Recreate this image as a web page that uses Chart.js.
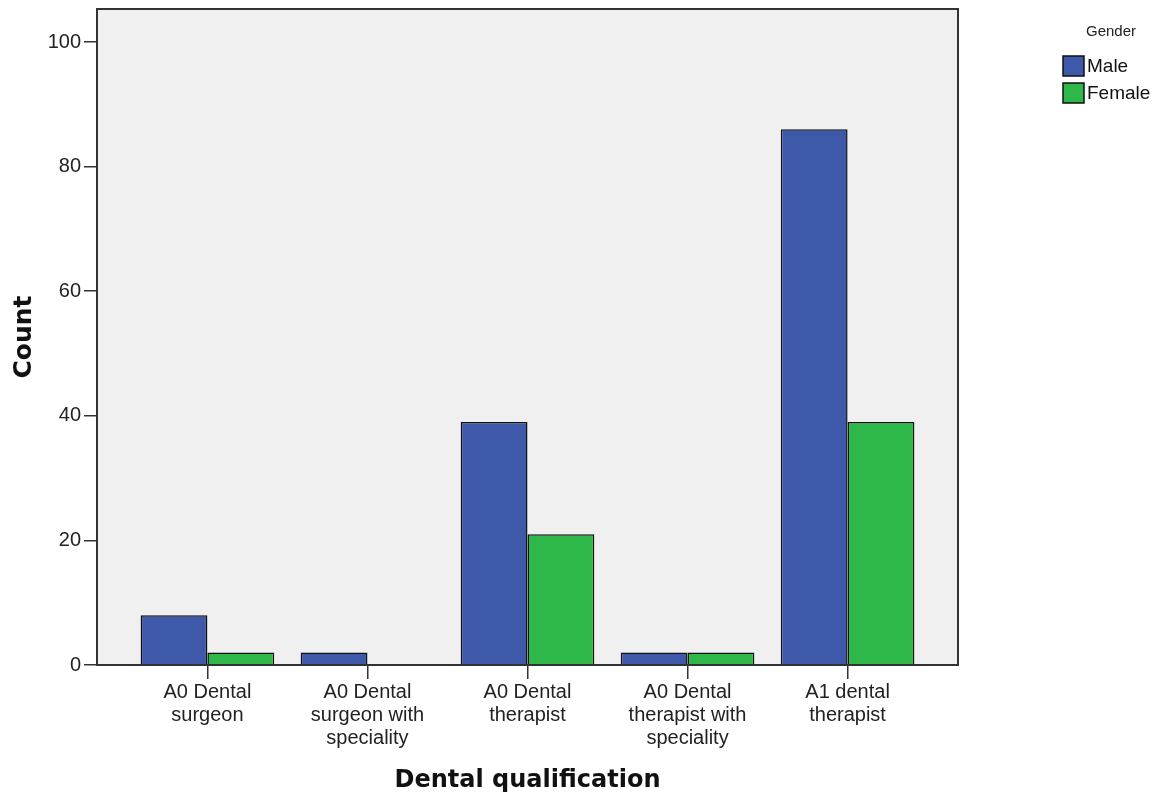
<!DOCTYPE html>
<html>
<head>
<meta charset="utf-8">
<script src="https://cdn.jsdelivr.net/npm/chart.js@4.4.1/dist/chart.umd.min.js"></script>
<style>
  html, body { margin: 0; padding: 0; background: #fff; }
  #wrap { width: 1169px; height: 800px; }
</style>
</head>
<body>
<div id="wrap"><canvas id="chart"></canvas></div>
<script>
// =========================
// DATA
// =========================
const categories = [
  ["A0 Dental", "surgeon"],
  ["A0 Dental", "surgeon with", "speciality"],
  ["A0 Dental", "therapist"],
  ["A0 Dental", "therapist with", "speciality"],
  ["A1 dental", "therapist"],
];
const maleCounts = [8, 2, 39, 2, 86];
const femaleCounts = [2, null, 21, 2, 39];
const yTicks = [0, 20, 40, 60, 80, 100];

const maleColor = "#3e58aa";
const femaleColor = "#2eb84a";

function toPoints(values) {
  return values.map((v, i) => ({ x: i, y: v }));
}

// =========================
// PLUGINS
// =========================
// plot background + frame
const plotFrame = {
  id: "plotFrame",
  beforeDatasetsDraw(chart) {
    const { ctx, chartArea: a } = chart;
    ctx.save();
    ctx.fillStyle = "#f0f0f0";
    ctx.fillRect(a.left, a.top, a.right - a.left, a.bottom - a.top);
    ctx.restore();
  },
  afterDatasetsDraw(chart) {
    const { ctx, chartArea: a } = chart;
    ctx.save();
    ctx.strokeStyle = "#333";
    ctx.lineWidth = 2;
    ctx.strokeRect(a.left, a.top, a.right - a.left, a.bottom - a.top);
    ctx.restore();
  },
};

// legend like the SPSS one
const genderLegend = {
  id: "genderLegend",
  afterDraw(chart) {
    const { ctx } = chart;
    ctx.save();
    ctx.fillStyle = "#222";
    ctx.font = "15px 'Liberation Sans', Arial, sans-serif";
    ctx.textAlign = "center";
    ctx.textBaseline = "middle";
    ctx.fillText("Gender", 1111, 32);

    chart.data.datasets.forEach((ds, i) => {
      const y = 56 + i * 27;
      ctx.fillStyle = ds.backgroundColor;
      ctx.fillRect(1063, y, 21, 20);
      ctx.strokeStyle = "#111";
      ctx.lineWidth = 1.5;
      ctx.strokeRect(1063, y, 21, 20);
      ctx.fillStyle = "#111";
      ctx.font = "19px 'Liberation Sans', Arial, sans-serif";
      ctx.textAlign = "left";
      ctx.fillText(ds.label, 1087, y + 11);
    });
    ctx.restore();
  },
};

// =========================
// CHART
// =========================
const ctx = document.getElementById("chart").getContext("2d");
const chart = new Chart(ctx, {
  type: "bar",
  data: {
    datasets: [
      {
        label: "Male",
        data: toPoints(maleCounts),
        backgroundColor: maleColor,
        borderColor: "#111",
        borderWidth: 1.5,
      },
      {
        label: "Female",
        data: toPoints(femaleCounts),
        backgroundColor: femaleColor,
        borderColor: "#111",
        borderWidth: 1.5,
      },
    ],
  },
  plugins: [plotFrame, genderLegend],
  options: {
    responsive: true,
    maintainAspectRatio: false,
    animation: false,
    layout: { padding: { left: 0, right: 211, top: 9, bottom: 0 } },
    datasets: {
      bar: { categoryPercentage: 0.835, barPercentage: 1.0 },
    },
    scales: {
      x: {
        type: "linear",
        offset: false,
        min: -0.69,
        max: 4.69,
        afterFit: (scale) => {
          scale.height = 135;
          scale.paddingLeft = 0;
          scale.paddingRight = 0;
        },
        afterBuildTicks: (scale) => {
          scale.ticks = categories.map((c, i) => ({ value: i }));
        },
        ticks: {
          autoSkip: false,
          maxRotation: 0,
          padding: 2,
          color: "#222",
          font: { family: "'Liberation Sans', Arial, sans-serif", size: 20, lineHeight: 1.15 },
          callback: (v) => categories[v],
        },
        grid: {
          offset: false,
          drawOnChartArea: false,
          drawTicks: true,
          tickLength: 14,
          color: "#333",
          lineWidth: 1.5,
        },
        border: { display: false },
        title: {
          display: true,
          text: "Dental qualification",
          color: "#111",
          font: { family: "'DejaVu Sans', Verdana, sans-serif", size: 24, weight: "bold", lineHeight: 1.2 },
          padding: { top: 0, bottom: 5 },
        },
      },
      y: {
        min: 0,
        max: 105.3,
        afterFit: (scale) => {
          scale.width = 97;
          scale.paddingTop = 0;
          scale.paddingBottom = 0;
        },
        afterBuildTicks: (scale) => {
          scale.ticks = yTicks.map((v) => ({ value: v }));
        },
        ticks: {
          padding: 3,
          color: "#222",
          font: { family: "'Liberation Sans', Arial, sans-serif", size: 20 },
        },
        grid: {
          drawOnChartArea: false,
          drawTicks: true,
          tickLength: 13,
          color: "#333",
          lineWidth: 1.5,
        },
        border: { display: false },
        title: {
          display: true,
          text: "Count",
          color: "#111",
          font: { family: "'DejaVu Sans', Verdana, sans-serif", size: 25, weight: "bold", lineHeight: 1.2 },
          padding: { top: 9, bottom: 0 },
        },
      },
    },
    plugins: {
      legend: { display: false },
      tooltip: { enabled: false },
    },
  },
});
</script>
</body>
</html>
